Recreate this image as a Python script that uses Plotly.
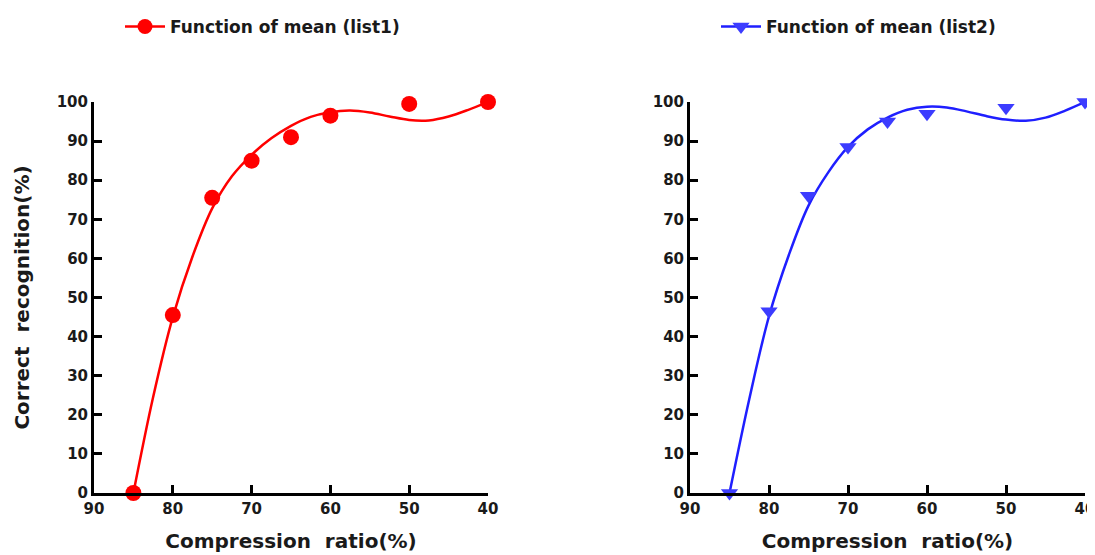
import plotly.graph_objects as go

# ---- data ----
ratio = [85, 80, 75, 70, 65, 60, 50, 40]
list1_mean = [0, 45.5, 75.5, 85, 91, 96.5, 99.5, 100]
list2_mean = [0, 46.5, 76, 88.5, 95, 97, 98.5, 100]

fit_x = [85, 82.5, 80, 77.5, 75, 72.5, 70, 67.5, 65, 62.5, 60, 57.5, 55, 52.5, 50, 47.5, 45, 42.5, 40]
fit1 = [0, 24.5, 45, 60.5, 72.8, 81, 86.5, 90.7, 93.9, 96.2, 97.4, 97.8, 97.3, 96.3, 95.4, 95.3, 96.3, 98, 100]
fit2 = [0, 24, 45.2, 60.8, 73.5, 82, 88.5, 93, 96, 98, 98.8, 98.6, 97.6, 96.4, 95.5, 95.2, 96, 97.8, 100]

x_ticks = [90, 80, 70, 60, 50, 40]
y_ticks = [0, 10, 20, 30, 40, 50, 60, 70, 80, 90, 100]

legend1_name = "Function of mean (list1)"
legend2_name = "Function of mean (list2)"
x_title = "Compression\u00a0 ratio(%)"
y_title = "Correct\u00a0 recognition(%)"

RED = "#ff0000"
BLUE_LINE = "#1f1fff"
BLUE_MARK = "#3c3cff"
FONT = "DejaVu Sans"

OFF = 8  # page body margin
W, H = 1095 - OFF, 555 - OFF

fig = go.Figure()

# left panel
fig.add_trace(go.Scatter(x=fit_x, y=fit1, mode="lines", line=dict(color=RED, width=2.5, shape="spline", smoothing=1.0),
                         showlegend=False, xaxis="x", yaxis="y", cliponaxis=False, hoverinfo="skip"))
fig.add_trace(go.Scatter(x=ratio, y=list1_mean, mode="markers", marker=dict(color=RED, size=16, symbol="circle"),
                         showlegend=False, xaxis="x", yaxis="y", cliponaxis=False))
fig.add_trace(go.Scatter(x=[None], y=[None], mode="lines+markers", name=legend1_name,
                         line=dict(color=RED, width=2.5), marker=dict(color=RED, size=15, symbol="circle"),
                         xaxis="x", yaxis="y", legend="legend"))

# right panel
fig.add_trace(go.Scatter(x=fit_x, y=fit2, mode="lines", line=dict(color=BLUE_LINE, width=2.5, shape="spline", smoothing=1.0),
                         showlegend=False, xaxis="x2", yaxis="y2", cliponaxis=False, hoverinfo="skip"))
fig.add_trace(go.Scatter(x=ratio, y=list2_mean, mode="markers", marker=dict(color=BLUE_MARK, size=15, symbol="triangle-down"),
                         showlegend=False, xaxis="x2", yaxis="y2", cliponaxis=False))
fig.add_trace(go.Scatter(x=[None], y=[None], mode="lines+markers", name=legend2_name,
                         line=dict(color=BLUE_LINE, width=2.5), marker=dict(color=BLUE_MARK, size=15, symbol="triangle-down"),
                         xaxis="x2", yaxis="y2", legend="legend2"))

tickfont = dict(family=FONT, size=15, color="#1a1a1a", weight="bold")
titlefont = dict(family=FONT, size=20, color="#1a1a1a", weight="bold")

y_dom = [(H - (493 - OFF)) / H, (H - (102 - OFF)) / H]

def xaxis(dom, anchor):
    return dict(domain=dom, anchor=anchor, range=[90, 40], tickvals=x_ticks, ticks="inside", ticklen=8,
                tickwidth=2.5, tickcolor="black", showline=True, linewidth=3, linecolor="black",
                showgrid=False, zeroline=False, tickfont=tickfont, automargin=False,
                ticklabeloverflow="allow",
                title=dict(text=x_title, font=titlefont, standoff=17))

def yaxis(dom, anchor, title):
    d = dict(domain=dom, anchor=anchor, range=[0, 100], tickvals=y_ticks, ticks="inside", ticklen=8,
             tickwidth=2.5, tickcolor="black", showline=True, linewidth=3, linecolor="black",
             showgrid=False, zeroline=False, tickfont=tickfont, automargin=False)
    if title:
        d["title"] = dict(text=title, font=titlefont, standoff=22)
    return d

legend_common = dict(orientation="h", yanchor="middle", xanchor="left",
                     font=dict(family=FONT, size=17, color="#1a1a1a", weight="bold"),
                     bgcolor="rgba(0,0,0,0)", itemwidth=40)

fig.update_layout(
    width=W, height=H,
    margin=dict(l=0, r=0, t=0, b=0),
    paper_bgcolor="white", plot_bgcolor="white",
    xaxis=xaxis([(94 - OFF) / W, (488 - OFF) / W], "y"),
    yaxis=yaxis(y_dom, "x", y_title),
    xaxis2=xaxis([(690 - OFF) / W, (1085 - OFF) / W], "y2"),
    yaxis2=yaxis(y_dom, "x2", None),
    legend=dict(x=112 / W, y=(H - (27 - OFF)) / H, **legend_common),
    legend2=dict(x=708 / W, y=(H - (27 - OFF)) / H, **legend_common),
)

fig.write_html("out.html")
